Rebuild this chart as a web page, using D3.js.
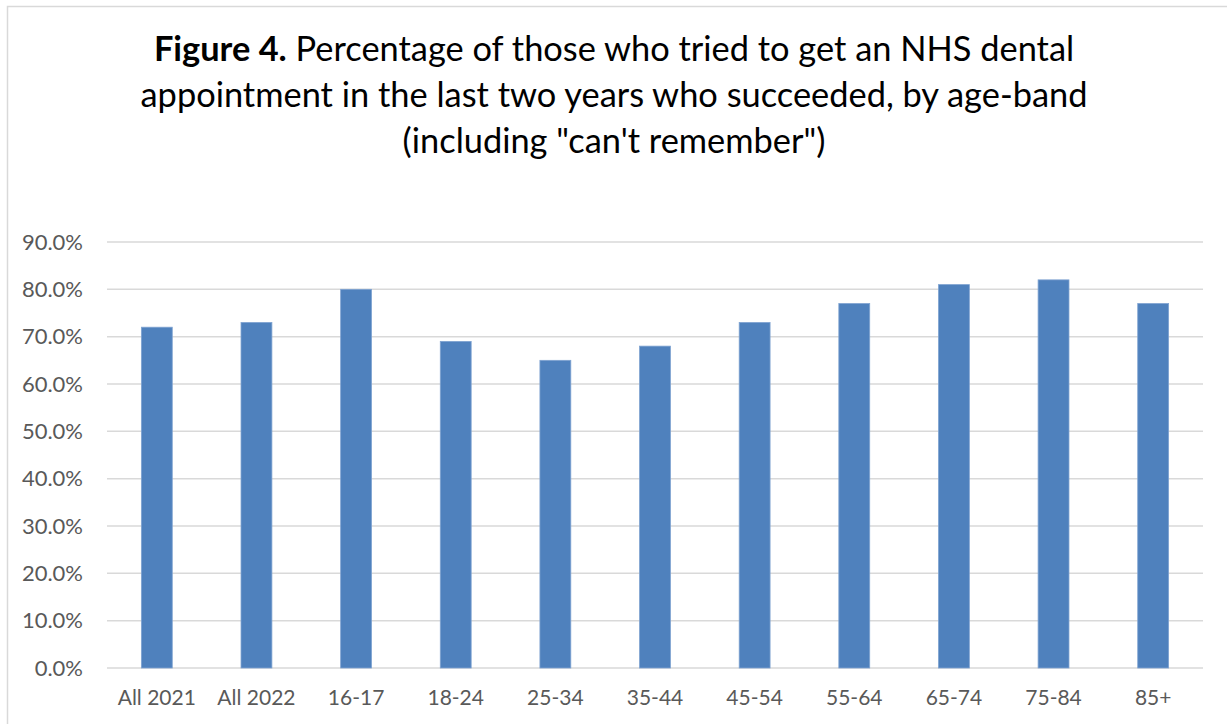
<!DOCTYPE html>
<html><head><meta charset="utf-8">
<script src="https://cdn.jsdelivr.net/npm/d3@7/dist/d3.min.js"></script>
<style>html,body{margin:0;padding:0;background:#fff;}svg{display:block;}</style>
</head><body>
<svg id="c" width="1227" height="726"></svg>
<script>
const categories = ["All 2021","All 2022","16-17","18-24","25-34","35-44","45-54","55-64","65-74","75-84","85+"];
const values = [72,73,80,69,65,68,73,77,81,82,77];
const yTicks = [0,10,20,30,40,50,60,70,80,90];
const titleBold = "Figure 4.";
const titleLines = [" Percentage of those who tried to get an NHS dental","appointment in the last two years who succeeded, by age-band","(including \"can't remember\")"];

const svg = d3.select("#c");
const font = "Lato, 'Open Sans', sans-serif";
// chart border
svg.append("path").attr("d","M1227,6.5 H7.5 V724").attr("fill","none").attr("stroke","#D9D9D9").attr("stroke-width",1.5);

const m = {left:107, right:1203, top:242, bottom:668};
const x = d3.scaleBand().domain(categories).range([m.left,m.right]).paddingInner(0.69).paddingOuter(0.345);
const y = d3.scaleLinear().domain([0,90]).range([m.bottom,m.top]);

// gridlines
svg.append("g").selectAll("line").data(yTicks).join("line")
  .attr("x1",m.left).attr("x2",m.right).attr("y1",d=>y(d)).attr("y2",d=>y(d))
  .attr("stroke","#D9D9D9").attr("stroke-width",1.5);

// y labels
const yAxis = d3.axisLeft(y).tickValues(yTicks).tickFormat(d=>d.toFixed(1)+"%").tickSize(0).tickPadding(24);
const ya = svg.append("g").attr("transform",`translate(${m.left},0)`).call(yAxis);
ya.select(".domain").remove();
ya.selectAll("text").attr("font-family",font).attr("font-size",22).attr("fill","#595959");

// bars
svg.append("g").selectAll("rect").data(values).join("rect")
  .attr("x",(d,i)=>x(categories[i])).attr("width",x.bandwidth())
  .attr("y",d=>y(d)).attr("height",d=>y(0)-y(d))
  .attr("fill","#4F81BD").attr("stroke","#7FA3D1").attr("stroke-width",0.8);

// x labels
const xAxis = d3.axisBottom(x).tickSize(0).tickPadding(22);
const xa = svg.append("g").attr("transform",`translate(0,${m.bottom})`).call(xAxis);
xa.select(".domain").remove();
xa.selectAll("text").attr("font-family",font).attr("font-size",21).attr("fill","#595959");

// title
const tg = svg.append("g").attr("font-family",font).attr("font-size",34.4).attr("fill","#000").attr("text-anchor","middle");
const t1 = tg.append("text").attr("x",614).attr("y",61);
t1.append("tspan").attr("font-weight","bold").text(titleBold);
t1.append("tspan").text(titleLines[0]);
tg.append("text").attr("x",614).attr("y",107).text(titleLines[1]);
tg.append("text").attr("x",614).attr("y",153).text(titleLines[2]);
</script>
</body></html>
